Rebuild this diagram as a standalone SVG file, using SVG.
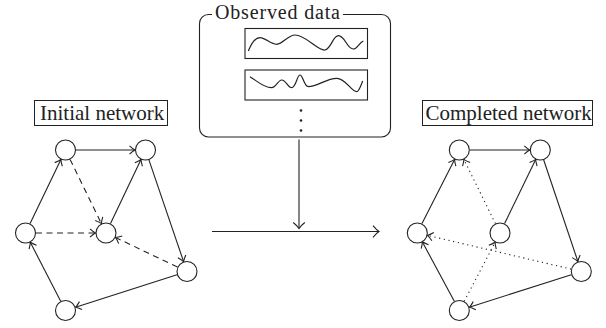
<svg xmlns="http://www.w3.org/2000/svg" width="606" height="328" viewBox="0 0 606 328">
<style>
.ln{fill:none;stroke:#222;stroke-width:1.1}
.dash{stroke-dasharray:6 4.5}
.dot{stroke-dasharray:1.2 3.6}
.nd{fill:#fff;stroke:#222;stroke-width:1.1}
.lbl{font-family:"Liberation Serif","Times New Roman",serif;font-size:21px;fill:#222}
.ttl{font-family:"Liberation Serif","Times New Roman",serif;font-size:20px;fill:#222}
.lbox{fill:#fff;stroke:#222;stroke-width:1}
.wave{fill:none;stroke:#222;stroke-width:1.2}
</style>
<defs>
<marker id="arr" markerUnits="userSpaceOnUse" markerWidth="14" markerHeight="14" viewBox="-10 -7 14 14" refX="0" refY="0" orient="auto">
<path d="M-5.5,-4.2 Q-2,-1 0,0 Q-2,1 -5.5,4.2" fill="none" stroke="#222" stroke-width="1.1" stroke-dasharray="none"/>
</marker>
<marker id="arrBig" markerUnits="userSpaceOnUse" markerWidth="16" markerHeight="16" viewBox="-12 -8 16 16" refX="0" refY="0" orient="auto">
<path d="M-6,-5.8 Q-2.5,-1.5 0,0 Q-2.5,1.5 -6,5.8" fill="none" stroke="#222" stroke-width="1.1"/>
</marker>
</defs>

<g id="observed-data">
<rect x="199.5" y="14.5" width="191" height="122.5" rx="9" fill="none" stroke="#222" stroke-width="1.1"/>
<rect x="212" y="4" width="131" height="18" fill="#fff"/>
<text class="ttl" x="215" y="18.5" textLength="125">Observed data</text>
<rect x="245" y="28.5" width="122.5" height="30" fill="none" stroke="#222" stroke-width="1.1"/>
<path class="wave" d="M248.3,51 C252,42 256,37.5 260,37.7 C266,38 271,44.5 276.7,44.3 C283,44 288,35 295,35 C306,35 318,51 325,50 C331,49 333,35.7 338.3,35.7 C345,35.7 347,49 353.3,49 C357,49 359,43 363.3,41"/>
<rect x="245" y="70" width="122.5" height="30" fill="none" stroke="#222" stroke-width="1.1"/>
<path class="wave" d="M250,76.7 C257,81 264,88 271.7,87.7 C276,87.5 278,80 281.7,80 C286,80 288,87.7 291.7,87.7 C296,87.7 297,75 300,75 C303,75 304,86.7 308.3,86.7 C318,86.7 326,78.3 336.7,78.3 C346,78.3 351,91.7 356.7,91.7 C359,91.7 361,85 362.7,81"/>
<circle cx="301" cy="110.5" r="1.3" fill="#222"/>
<circle cx="301" cy="120.5" r="1.3" fill="#222"/>
<circle cx="301" cy="130.5" r="1.3" fill="#222"/>
</g>

<g id="label-initial">
<rect class="lbox" x="34.5" y="100.5" width="133" height="25"/>
<text class="lbl" x="40" y="120">Initial network</text>
</g>
<g id="label-completed">
<rect class="lbox" x="422.5" y="100.5" width="170" height="25"/>
<text class="lbl" x="425.5" y="120">Completed network</text>
</g>

<g id="connectors">
<line class="ln" x1="299" y1="139.5" x2="299" y2="228.5" marker-end="url(#arrBig)"/>
<line class="ln" x1="212" y1="231.5" x2="379" y2="231.5" marker-end="url(#arrBig)"/>
<line class="ln" x1="76" y1="150" x2="135" y2="150" marker-end="url(#arr)"/>
<line class="ln dash" x1="70.1" y1="159.4" x2="101.4" y2="223.6" marker-end="url(#arr)"/>
<line class="ln" x1="30.1" y1="223.5" x2="60.9" y2="159.5" marker-end="url(#arr)"/>
<line class="ln dash" x1="36" y1="233" x2="95.5" y2="233" marker-end="url(#arr)"/>
<line class="ln" x1="110.5" y1="223.5" x2="141" y2="159.5" marker-end="url(#arr)"/>
<line class="ln" x1="148.9" y1="159.9" x2="183.6" y2="261.6" marker-end="url(#arr)"/>
<line class="ln dash" x1="177.5" y1="267" x2="115.5" y2="237.5" marker-end="url(#arr)"/>
<line class="ln" x1="177" y1="274.7" x2="75.5" y2="307.3" marker-end="url(#arr)"/>
<line class="ln" x1="60.7" y1="301.2" x2="30.3" y2="242.3" marker-end="url(#arr)"/>
<line class="ln" x1="469.8" y1="150" x2="529.8" y2="150" marker-end="url(#arr)"/>
<line class="ln" x1="422" y1="223.6" x2="454.6" y2="159.4" marker-end="url(#arr)"/>
<line class="ln" x1="504.6" y1="223.6" x2="535.7" y2="159.4" marker-end="url(#arr)"/>
<line class="ln" x1="543.7" y1="160" x2="577.9" y2="261.5" marker-end="url(#arr)"/>
<line class="ln" x1="571.3" y1="274.7" x2="469.3" y2="307.3" marker-end="url(#arr)"/>
<line class="ln" x1="454.3" y1="301.3" x2="422.3" y2="241.8" marker-end="url(#arr)"/>
<line class="ln dot" x1="495.4" y1="223.6" x2="463.9" y2="159.4" marker-end="url(#arr)"/>
<line class="ln dot" x1="571.1" y1="269.1" x2="427.5" y2="235.4" marker-end="url(#arr)"/>
<line class="ln dot" x1="464.2" y1="301.2" x2="495.1" y2="242.3" marker-end="url(#arr)"/>
</g>

<g id="initial-A"><circle class="nd" cx="65.5" cy="150" r="10"/></g>
<g id="initial-B"><circle class="nd" cx="145.5" cy="150" r="10"/></g>
<g id="initial-C"><circle class="nd" cx="25.5" cy="233" r="10"/></g>
<g id="initial-D"><circle class="nd" cx="106" cy="233" r="10"/></g>
<g id="initial-E"><circle class="nd" cx="187" cy="271.5" r="10"/></g>
<g id="initial-F"><circle class="nd" cx="65.5" cy="310.5" r="10"/></g>

<g id="completed-A"><circle class="nd" cx="459.3" cy="150" r="10"/></g>
<g id="completed-B"><circle class="nd" cx="540.3" cy="150" r="10"/></g>
<g id="completed-C"><circle class="nd" cx="417.3" cy="233" r="10"/></g>
<g id="completed-D"><circle class="nd" cx="500" cy="233" r="10"/></g>
<g id="completed-E"><circle class="nd" cx="581.3" cy="271.5" r="10"/></g>
<g id="completed-F"><circle class="nd" cx="459.3" cy="310.5" r="10"/></g>
</svg>
